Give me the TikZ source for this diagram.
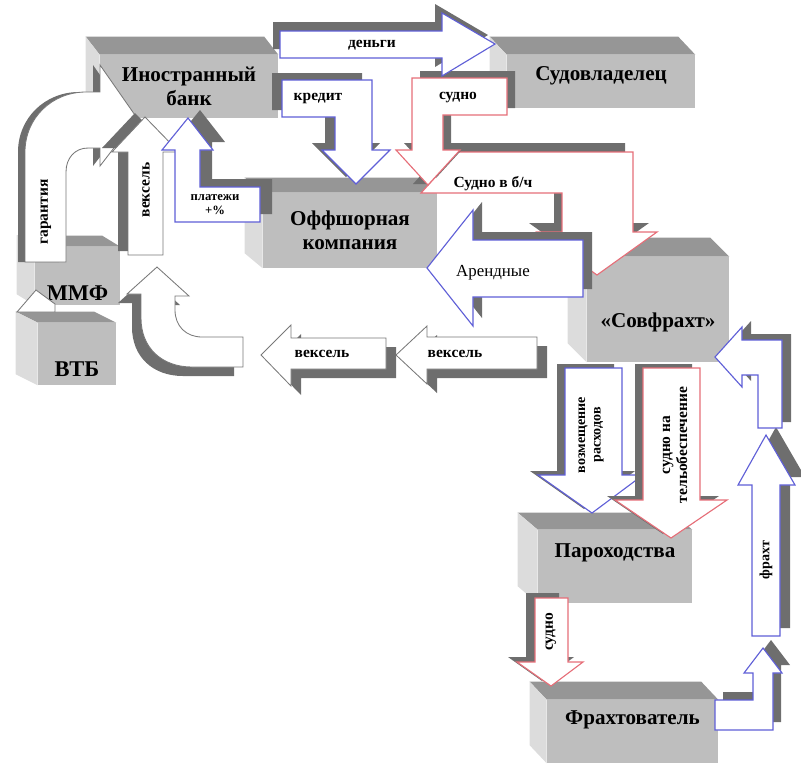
\documentclass[tikz,border=0pt]{standalone}
\usepackage{fontspec}
\setmainfont{Liberation Serif}
\usepackage{tikz}
\definecolor{frontgray}{RGB}{190,190,190}
\definecolor{topgray}{RGB}{150,150,150}
\definecolor{sidegray}{RGB}{220,220,220}
\definecolor{shadowgray}{RGB}{110,110,110}
\definecolor{blueline}{RGB}{95,95,215}
\definecolor{redline}{RGB}{230,110,120}
\definecolor{grayline}{RGB}{120,120,120}
\tikzset{every node/.style={font=\bfseries}}

\begin{document}
\begin{tikzpicture}[
  x=0.025cm, y=-0.025cm,
  cube/.style={fill=frontgray, inner sep=0pt, align=center,
    font=\fontsize{15}{17}\selectfont\bfseries},
  topface/.style={fill=topgray},
  sideface/.style={fill=sidegray},
  bluearr/.style={fill=white, draw=blueline, line width=0.8pt},
  redarr/.style={fill=white, draw=redline, line width=0.8pt},
  grayarr/.style={fill=white, draw=grayline, line width=0.6pt},
  sh/.style={preaction={fill=shadowgray, draw=none, transform canvas={shift={#1}}}},
  lbl/.style={font=\fontsize{11}{12}\selectfont\bfseries, inner sep=1pt, align=center}
]
\useasboundingbox (0,0) rectangle (801,765);

% boxes
\node[cube, minimum width=4.45cm, minimum height=1.575cm] (bank) at (189,86.5) {Иностранный\\банк};
\node[cube, minimum width=4.7cm, minimum height=1.325cm] (owner) at (601,81.5) {\raisebox{4pt}[\height][\depth]{Судовладелец}};
\node[cube, minimum width=4.35cm, minimum height=1.875cm] (offshore) at (350,230.5) {Оффшорная\\компания};
\node[cube, minimum width=3.55cm, minimum height=2.625cm] (sovfracht) at (658,309.5) {\raisebox{-9pt}[\height][\depth]{«Совфрахт»}};
\node[cube, minimum width=2.125cm, minimum height=1.45cm, font=\fontsize{16}{18}\selectfont\bfseries] (mmf) at (77.5,276) {\raisebox{-12pt}[\height][\depth]{ММФ}};
\node[cube, minimum width=1.95cm, minimum height=1.55cm, font=\fontsize{16}{18}\selectfont\bfseries] (vtb) at (77,354) {\raisebox{-11pt}[\height][\depth]{ВТБ}};
\node[cube, minimum width=3.85cm, minimum height=1.825cm] (parokh) at (615,566.5) {\raisebox{10pt}[\height][\depth]{Пароходства}};
\node[cube, minimum width=4.275cm, minimum height=1.575cm] (fracht) at (632.5,731.5) {\raisebox{8pt}[\height][\depth]{Фрахтователь}};

\foreach \b/\dx/\dy in {bank/-14/-18, owner/-17/-18, offshore/-18/-15, sovfracht/-19/-19,
    mmf/-18/-11, vtb/-22/-11, parokh/-20/-17, fracht/-17/-18}{
  \fill[topface] (\b.north west) -- ([shift={(\dx,\dy)}]\b.north west)
    -- ([shift={(\dx,\dy)}]\b.north east) -- (\b.north east) -- cycle;
  \fill[sideface] (\b.north west) -- ([shift={(\dx,\dy)}]\b.north west)
    -- ([shift={(\dx,\dy)}]\b.south west) -- (\b.south west) -- cycle;
}

% top: bank, owner, offshore
\draw[redarr, sh={(-8,-9)}] (458,152) -- (633,152) -- (633,232) -- (657,232) -- (597,275)
  -- (537,232) -- (562,232) -- (562,193) -- (421,193) -- cycle;
\node[lbl] (shipbc) at (493,184) {Судно в б/ч};

\draw[redarr, sh={(8,-7)}] (412,78) -- (507,78) -- (507,115) -- (443,115) -- (443,150)
  -- (460,150) -- (428,185) -- (396,150) -- (412,150) -- cycle;
\node[lbl] (ship) at (458,98) {судно};

\draw[bluearr, sh={(-7,-9)}] (280,31) -- (442,31) -- (442,13) -- (495,44) -- (442,76)
  -- (442,58) -- (280,58) -- cycle;
\node[lbl] (money) at (372,45) {деньги};

\draw[bluearr, sh={(-10,-7)}] (282,80) -- (372,80) -- (372,150) -- (390,150) -- (356,184)
  -- (322,150) -- (335,150) -- (335,117) -- (282,117) -- cycle;
\node[lbl] (credit) at (318,98) {кредит};

\draw[bluearr, sh={(9,-8)}] (583,240) -- (583,297) -- (473,297) -- (473,326) -- (427,268)
  -- (473,210) -- (473,240) -- cycle;
\node[lbl, font=\fontsize{12}{13}\selectfont\mdseries] (rent) at (493,273) {Арендные};

% left: mmf, vtb
\draw[grayarr, sh={(-7,0)}] (25,262) -- (25,152) .. controls (25,118) and (52,92) .. (86,92)
  -- (100,92) -- (100,65) -- (137,118) -- (100,166) -- (100,148) -- (88,148)
  .. controls (75,148) and (66,158) .. (66,172) -- (66,262) -- cycle;
\node[lbl, rotate=90] (guarantee) at (46,212) {гарантия};

\draw[grayarr, sh={(-10,-4)}] (128,255) -- (128,152) -- (112,152) -- (145,117) -- (179,152)
  -- (163,152) -- (163,255) -- cycle;
\node[lbl, rotate=90] (billup) at (146,190) {вексель};

\draw[bluearr, sh={(12,-8)}] (260,187) -- (200,187) -- (200,150) -- (213,150) -- (188,118)
  -- (162,150) -- (175,150) -- (175,222) -- (260,222) -- cycle;
\node[lbl, font=\fontsize{9}{10}\selectfont\bfseries] (payments) at (215,205) {платежи\\+\%};

\draw[grayarr] (17,312) -- (36,290) -- (55,304) -- (55,312) -- cycle;

\draw[grayarr, sh={(-9,9)}] (243,337) -- (202,337) .. controls (186,337) and (175,326) .. (175,310)
  -- (175,296) -- (189,296) -- (157,267) -- (127,294) -- (141,294) -- (141,318)
  .. controls (141,348) and (162,367) .. (192,367) -- (243,367) -- cycle;

\draw[grayarr, sh={(10,9)}] (386,338) -- (291,338) -- (291,325) -- (261,355) -- (291,386)
  -- (291,369) -- (386,369) -- cycle;
\node[lbl] (billa) at (322,354) {вексель};
\draw[grayarr, sh={(10,9)}] (537,337) -- (427,337) -- (427,326) -- (396,355) -- (427,384)
  -- (427,369) -- (537,369) -- cycle;
\node[lbl] (billb) at (455,354) {вексель};

% right: sovfracht, parokh, fracht
\draw[bluearr, sh={(-8,-4)}] (565,368) -- (622,368) -- (622,475) -- (643,475) -- (592,513)
  -- (538,475) -- (565,475) -- cycle;
\node[lbl, rotate=90, font=\fontsize{10}{11}\selectfont\bfseries] (refund) at (591,435) {возмещение\\расходов};

\draw[redarr, sh={(-8,-4)}] (643,368) -- (700,368) -- (700,500) -- (727,500) -- (671,538)
  -- (615,500) -- (643,500) -- cycle;
\node[lbl, rotate=90] (shipto) at (675,445) {судно на\\тельобеспечение};

\draw[redarr, sh={(-9,-5)}] (535,598) -- (568,598) -- (568,662) -- (583,662) -- (551,686)
  -- (517,662) -- (535,662) -- cycle;
\node[lbl, rotate=90] (shipc) at (551,632) {судно};

\draw[bluearr, sh={(8,-8)}] (715,700) -- (753,700) -- (753,673) -- (744,673) -- (763,648)
  -- (782,673) -- (773,673) -- (773,730) -- (715,730) -- cycle;

\draw[bluearr, sh={(10,-8)}] (752,636) -- (752,485) -- (738,485) -- (766,435) -- (795,485)
  -- (780,485) -- (780,636) -- cycle;
\node[lbl, rotate=90, font=\fontsize{10}{11}\selectfont\bfseries] (freight) at (766,560) {фрахт};

\draw[bluearr, sh={(9,-6)}] (782,428) -- (782,340) -- (742,340) -- (742,327) -- (715,357)
  -- (742,387) -- (742,375) -- (758,375) -- (758,428) -- cycle;

\end{tikzpicture}
\end{document}
